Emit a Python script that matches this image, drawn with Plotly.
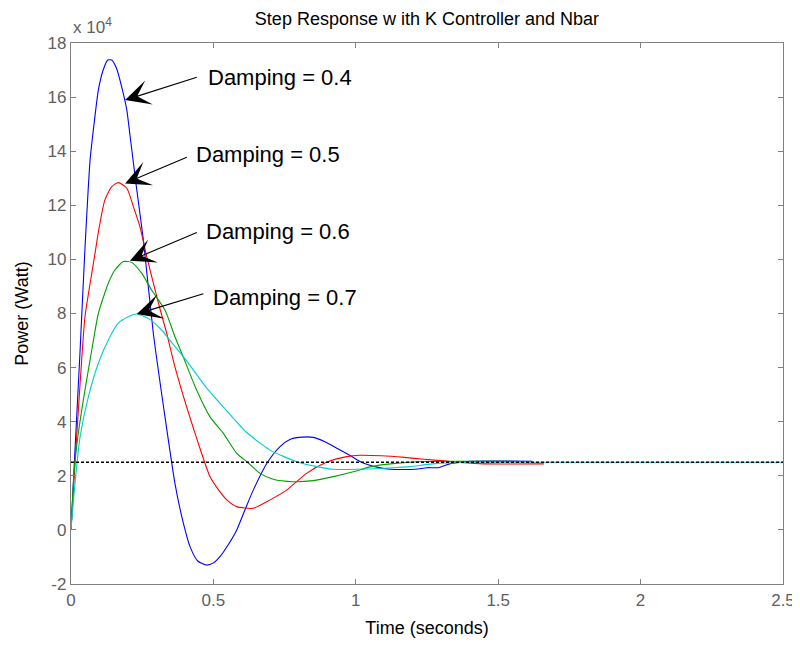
import plotly.graph_objects as go

# Step response data (Power in units of 10^4 W)
t_d04 = [0, 0.014, 0.032, 0.049, 0.067, 0.082, 0.096, 0.113, 0.129, 0.143, 0.160, 0.178, 0.196, 0.207,
         0.231, 0.254, 0.289, 0.330, 0.365, 0.389, 0.418, 0.445, 0.476, 0.50, 0.523, 0.552, 0.582,
         0.61, 0.64, 0.69, 0.734, 0.77, 0.80, 0.851, 0.893, 0.933, 0.98, 1.02, 1.07, 1.12, 1.21, 1.25,
         1.29, 1.33, 1.37, 1.40, 1.62]
p_d04 = [0, 2.95, 6.65, 10.4, 13.67, 15.1, 16.26, 17.0, 17.37, 17.37, 17.06, 16.38, 15.52, 14.6,
         12.57, 10.72, 7.27, 4.18, 1.72, 0.49, -0.62, -1.15, -1.30, -1.22, -0.99, -0.55, 0.0,
         0.72, 1.47, 2.5, 3.08, 3.35, 3.42, 3.42, 3.25, 3.02, 2.75, 2.5, 2.33, 2.24, 2.24, 2.30,
         2.30, 2.44, 2.50, 2.54, 2.54]

t_d05 = [0, 0.014, 0.032, 0.049, 0.067, 0.084, 0.096, 0.119, 0.143, 0.166, 0.196, 0.219, 0.242, 0.266,
         0.307, 0.336, 0.365, 0.406, 0.447, 0.488, 0.52, 0.547, 0.582, 0.64, 0.699,
         0.757, 0.827, 0.897, 0.968, 1.015, 1.09, 1.17, 1.24, 1.31, 1.38, 1.45, 1.66]
p_d05 = [0, 2.46, 5.42, 7.88, 9.1, 10.2, 11.0, 12.2, 12.69, 12.84, 12.63, 11.95, 11.21, 10.10,
         8.38, 7.27, 6.03, 4.55, 3.20, 1.97, 1.45, 1.11, 0.86, 0.80, 1.11,
         1.47, 2.09, 2.5, 2.71, 2.76, 2.74, 2.68, 2.61, 2.55, 2.48, 2.44, 2.44]

t_d06 = [0, 0.012, 0.026, 0.049, 0.073, 0.096, 0.131, 0.154, 0.184, 0.213, 0.248, 0.283, 0.330,
         0.365, 0.394, 0.441, 0.488, 0.535, 0.582, 0.62, 0.664, 0.710, 0.78, 0.851, 0.921,
         0.991, 1.05, 1.13, 1.25, 1.58]
p_d06 = [0, 2.3, 3.6, 5.17, 6.65, 8.0, 9.12, 9.61, 9.92, 9.89, 9.49, 8.87, 8.13,
         7.14, 6.40, 5.17, 4.18, 3.57, 2.83, 2.5, 2.09, 1.87, 1.78, 1.82, 1.97,
         2.15, 2.33, 2.45, 2.53, 2.53]

t_d07 = [0, 0.014, 0.032, 0.061, 0.096, 0.131, 0.166, 0.201, 0.231, 0.271, 0.318, 0.348, 0.406, 0.476,
         0.547, 0.617, 0.699, 0.792, 0.863, 0.92, 1.07, 1.13, 1.19, 1.27, 1.41, 2.5]
p_d07 = [0, 1.72, 3.45, 4.92, 6.16, 7.02, 7.64, 7.88, 7.98, 7.82, 7.39, 7.0, 6.25, 5.25,
         4.4, 3.6, 2.95, 2.52, 2.34, 2.24, 2.26, 2.30, 2.34, 2.44, 2.5, 2.5]

ref_t = [0, 2.5]
ref_p = [2.5, 2.5]

labels = ["Damping = 0.4", "Damping = 0.5", "Damping = 0.6", "Damping = 0.7"]
tip_t = [0.190, 0.190, 0.207, 0.231]
tip_p = [15.89, 12.81, 9.95, 7.98]
tail_t = [0.447, 0.412, 0.447, 0.470]
tail_p = [16.75, 13.80, 11.02, 8.75]
text_t = [0.474, 0.432, 0.467, 0.491]
text_p = [16.74, 13.86, 11.03, 8.58]

x_ticks = [0, 0.5, 1, 1.5, 2, 2.5]
x_ticktext = ["0", "0.5", "1", "1.5", "2", "2.5"]
y_ticks = [-2, 0, 2, 4, 6, 8, 10, 12, 14, 16, 18]
y_ticktext = ["-2", "0", "2", "4", "6", "8", "10", "12", "14", "16", "18"]

FONT = "Liberation Sans, Arial, sans-serif"

fig = go.Figure()
for tt, pp, col in [(t_d04, p_d04, "#0000ff"), (t_d05, p_d05, "#ff0000"),
                    (t_d06, p_d06, "#00a000"), (t_d07, p_d07, "#00cccc")]:
    fig.add_trace(go.Scatter(x=tt, y=pp, mode="lines",
                             line=dict(color=col, width=1.1, shape="spline", smoothing=0.6),
                             showlegend=False, hoverinfo="skip"))
fig.add_trace(go.Scatter(x=ref_t, y=ref_p, mode="lines",
                         line=dict(color="black", width=1.6, dash="3px,2px"),
                         showlegend=False, hoverinfo="skip"))

for i in range(4):
    fig.add_annotation(x=tip_t[i], y=tip_p[i], ax=tail_t[i], ay=tail_p[i], axref="x", ayref="y",
                       xref="x", yref="y", text="", showarrow=True, arrowhead=3,
                       arrowsize=3.8, arrowwidth=1.1, arrowcolor="black")
    fig.add_annotation(x=text_t[i], y=text_p[i], xref="x", yref="y", text=labels[i],
                       showarrow=False, xanchor="left", yanchor="middle",
                       font=dict(family=FONT, size=22, color="black"))

fig.add_annotation(x=0, y=1, xref="paper", yref="paper", text="x 10<sup>4</sup>",
                   showarrow=False, xanchor="left", yanchor="bottom", yshift=4,
                   font=dict(family=FONT, size=17, color="#606060"))

fig.update_layout(
    width=792, height=640,
    paper_bgcolor="white", plot_bgcolor="white",
    margin=dict(l=63, r=17, t=35, b=64, autoexpand=False),
    title=dict(text="Step Response w ith K Controller and Nbar", x=0.529, xanchor="center",
               y=0.984, yanchor="middle", font=dict(family=FONT, size=18, color="black")),
    xaxis=dict(range=[0, 2.5], tickvals=x_ticks, ticktext=x_ticktext, showgrid=False, zeroline=False,
               showline=True, linecolor="#808080", linewidth=1.3, mirror="ticks", ticks="inside",
               ticklen=5, tickcolor="#808080", automargin=False,
               tickfont=dict(family=FONT, size=17, color="#606060"),
               title=dict(text="Time (seconds)", standoff=12, font=dict(family=FONT, size=18, color="black"))),
    yaxis=dict(range=[-2, 18], tickvals=y_ticks, ticktext=y_ticktext, showgrid=False, zeroline=False,
               showline=True, linecolor="#808080", linewidth=1.3, mirror="ticks", ticks="inside",
               ticklen=5, tickcolor="#808080", automargin=False,
               tickfont=dict(family=FONT, size=17, color="#606060"),
               title=dict(text="Power (Watt)", standoff=14, font=dict(family=FONT, size=18, color="black"))),
)

fig.write_html("out.html")
